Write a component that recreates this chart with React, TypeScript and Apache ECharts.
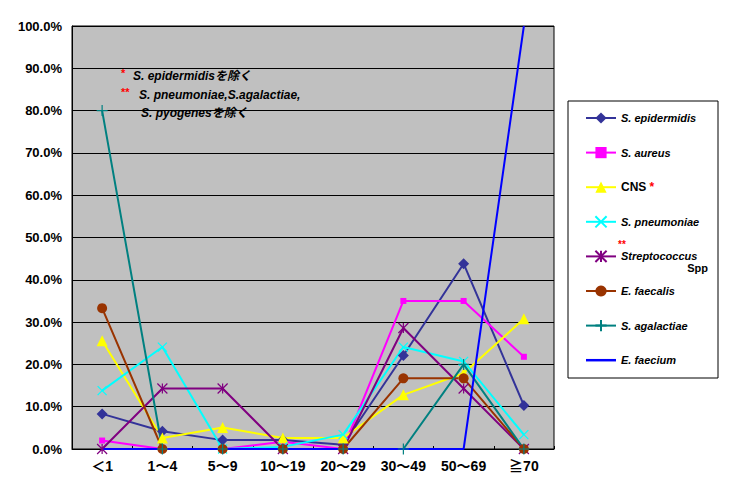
import React, { useEffect, useRef } from "react";
import * as echarts from "echarts";

const categories = ["＜1", "1～4", "5～9", "10～19", "20～29", "30～49", "50～69", "≧70"];

const epidermidis = [8.3, 4.2, 2.1, 2.1, 1.0, 22.1, 43.8, 10.3];
const aureus = [2.0, 0, 0, 1.7, 0, 35.0, 35.0, 21.8];
const cns = [25.6, 2.6, 5.1, 2.6, 2.6, 12.8, 17.9, 30.8];
const pneumoniae = [13.8, 24.1, 0, 0.5, 3.4, 24.1, 20.7, 3.4];
const streptococcus = [0, 14.3, 14.3, 0, 0, 28.6, 14.3, 0];
const faecalis = [33.3, 0, 0, 0, 0, 16.7, 16.7, 0];
const agalactiae = [80.0, 0, 0, 0, 0, 0, 20.0, 0];
const faecium = [0, 0, 0, 0, 0, 0, 0, 100.0];

const seriesNames = [
  "S. epidermidis",
  "S. aureus",
  "CNS",
  "S. pneumoniae",
  "Streptococcus",
  "E. faecalis",
  "S. agalactiae",
  "E. faecium",
];

const FONT = "'Liberation Sans', 'Noto Sans CJK JP', sans-serif";

export default function App() {
  const ref = useRef<HTMLDivElement>(null);
  useEffect(() => {
    if (!ref.current) return;
    const chart = echarts.init(ref.current, undefined, { renderer: "svg" });

    const mk = (
      name: string,
      data: number[],
      color: string,
      symbol: string,
      symbolSize: number,
      stroke = false
    ) => ({
      name,
      type: "line",
      data,
      symbol,
      symbolSize,
      showSymbol: symbol !== "none",
      lineStyle: { color, width: 2 },
      itemStyle: stroke
        ? { color: color, borderColor: color, borderWidth: 1.2 }
        : { color, borderColor: color, borderWidth: 0 },
      emphasis: { disabled: true },
    });

    const xPath = "path://M0,0L10,10M10,0L0,10";
    const starPath = "path://M0,0L10,10M10,0L0,10M5,0L5,10";
    const plusPath = "path://M5,0L5,10M0,5L10,5";

    const series = [
      mk(seriesNames[0], epidermidis, "#333399", "diamond", 11),
      mk(seriesNames[1], aureus, "#FF00FF", "rect", 6),
      mk(seriesNames[2], cns, "#FFFF00", "triangle", 11),
      mk(seriesNames[3], pneumoniae, "#00FFFF", xPath, 9, true),
      mk(seriesNames[4], streptococcus, "#800080", starPath, 10, true),
      mk(seriesNames[5], faecalis, "#993300", "circle", 10),
      mk(seriesNames[6], agalactiae, "#008080", plusPath, 11, true),
      mk(seriesNames[7], faecium, "#0000FF", "none", 0),
    ];

    const legendData = seriesNames.map((n) =>
      n === "E. faecium"
        ? { name: n, icon: "path://M0,0L30,0L30,2.5L0,2.5Z" }
        : { name: n }
    );

    chart.setOption({
      animation: false,
      backgroundColor: "#ffffff",
      grid: {
        left: 72,
        top: 26,
        width: 482,
        height: 423,
        show: true,
        backgroundColor: "#c0c0c0",
        borderColor: "#000",
        borderWidth: 1,
      },
      xAxis: {
        type: "category",
        data: categories,
        boundaryGap: true,
        axisLine: { show: true, lineStyle: { color: "#000", width: 1 } },
        axisTick: { show: true, inside: true, length: 3, lineStyle: { color: "#000" } },
        axisLabel: {
          color: "#000",
          fontSize: 14,
          fontWeight: "bold",
          fontFamily: FONT,
          margin: 10,
        },
      },
      yAxis: {
        type: "value",
        min: 0,
        max: 100,
        interval: 10,
        axisLine: { show: true, lineStyle: { color: "#000", width: 1 } },
        axisTick: { show: false },
        splitLine: { show: true, lineStyle: { color: "#000", width: 1 } },
        axisLabel: {
          color: "#000",
          fontSize: 13,
          fontWeight: "bold",
          fontFamily: FONT,
          margin: 10,
          formatter: (v: number) => v.toFixed(1) + "%",
        },
      },
      legend: {
        orient: "vertical",
        left: 585,
        top: 111,
        padding: 0,
        itemGap: 20.6,
        itemWidth: 30,
        itemHeight: 14,
        data: legendData,
        selectedMode: false,
        textStyle: {
          color: "#000",
          fontSize: 11,
          fontWeight: "bold",
          fontStyle: "italic",
          fontFamily: FONT,
          lineHeight: 14,
          rich: {
            n: { fontStyle: "normal", fontWeight: "bold", fontSize: 12, fontFamily: FONT, color: "#000" },
            r: { color: "#FF0000", fontStyle: "normal", fontWeight: "bold", fontSize: 12, fontFamily: FONT },
          },
        },
        formatter: (name: string) => (name === "CNS" ? "{n|CNS} {r|*}" : name),
      },
      graphic: [
        {
          type: "rect",
          shape: { x: 568, y: 101, width: 150, height: 277 },
          style: { fill: "#ffffff", stroke: "#000", lineWidth: 1 },
          z: -1,
          silent: true,
        },
        {
          type: "text",
          x: 618,
          y: 244,
          style: {
            text: "**",
            fill: "#FF0000",
            font: `bold 10px ${FONT}`,
            verticalAlign: "middle",
          },
        },
        {
          type: "text",
          x: 708,
          y: 268,
          style: {
            text: "Spp",
            fill: "#000",
            font: `bold 11px ${FONT}`,
            align: "right",
            verticalAlign: "middle",
          },
        },
        {
          type: "text",
          x: 121,
          y: 73,
          style: { text: "*", fill: "#FF0000", font: `bold 11px ${FONT}`, verticalAlign: "middle" },
        },
        {
          type: "text",
          x: 133,
          y: 76,
          style: {
            text: "S. epidermidisを除く",
            fill: "#000",
            font: `italic bold 12px ${FONT}`,
            verticalAlign: "middle",
          },
        },
        {
          type: "text",
          x: 121,
          y: 92,
          style: { text: "**", fill: "#FF0000", font: `bold 11px ${FONT}`, verticalAlign: "middle" },
        },
        {
          type: "text",
          x: 139,
          y: 95,
          style: {
            text: "S. pneumoniae,S.agalactiae,",
            fill: "#000",
            font: `italic bold 12px ${FONT}`,
            verticalAlign: "middle",
          },
        },
        {
          type: "text",
          x: 141,
          y: 113,
          style: {
            text: "S. pyogenesを除く",
            fill: "#000",
            font: `italic bold 12px ${FONT}`,
            verticalAlign: "middle",
          },
        },
      ],
      series,
    });

    return () => chart.dispose();
  }, []);

  return (
    <div
      ref={ref}
      style={{ position: "fixed", left: 0, top: 0, width: 729, height: 493, background: "#fff" }}
    />
  );
}
